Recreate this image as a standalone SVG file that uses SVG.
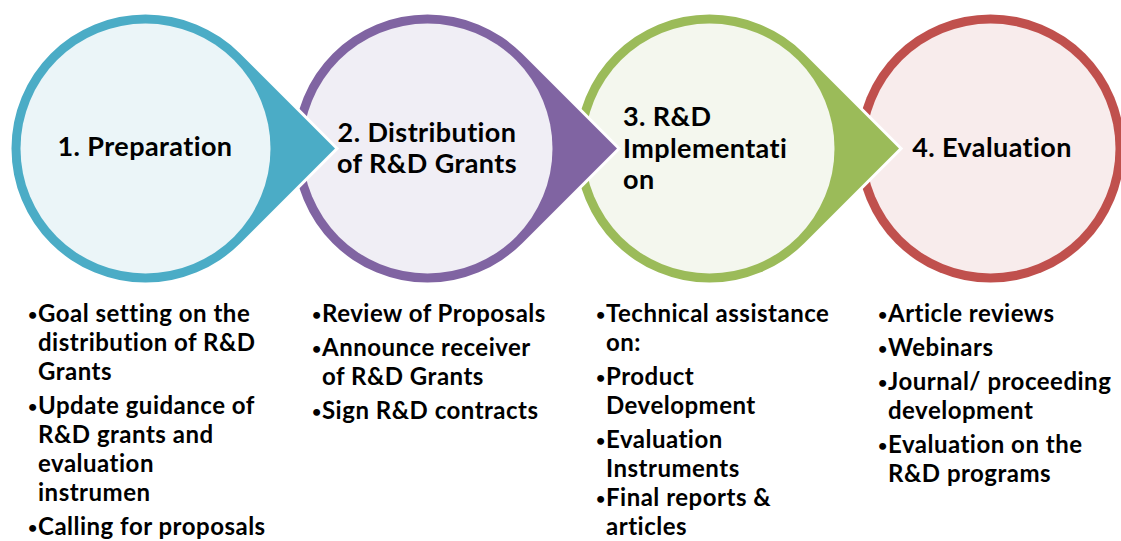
<svg xmlns="http://www.w3.org/2000/svg" width="1121" height="541" viewBox="0 0 1121 541">
  <style>
    .drop { stroke: #ffffff; stroke-width: 6; paint-order: stroke; stroke-linejoin: miter; }
    .title { font-family: "Lato", "Liberation Sans", sans-serif; font-weight: bold; font-size: 27px; letter-spacing: 0.4px; fill: #000; }
    .item { font-family: "Lato", "Liberation Sans", sans-serif; font-weight: bold; font-size: 24px; letter-spacing: 0.5px; fill: #000; }
    .dot { font-size: 16px; letter-spacing: 0; }
    .teal { fill: #4BACC6; }
    .purple { fill: #8064A2; }
    .green { fill: #9BBB59; }
    .red { fill: #C0504D; }
  </style>
  <rect width="1121" height="541" fill="#ffffff"/>

  <!-- stage 4: plain circle (drawn first so earlier stages overlap it) -->
  <g id="stage4">
    <circle class="drop red" cx="990.5" cy="148.5" r="134"/>
    <circle cx="990.5" cy="148.5" r="125" fill="#F8ECEC"/>
    <text class="title" x="992" y="157" text-anchor="middle">4. Evaluation</text>
  </g>

  <!-- stage 3: circle with pointer to the right -->
  <g id="stage3">
    <path class="drop green" d="M899,148.5 L804.25,53.75 A134,134 0 1 0 804.25,243.25 Z"/>
    <circle cx="709.5" cy="148.5" r="125" fill="#F4F7EE"/>
    <text class="title" x="623" y="126">3. R&amp;D</text>
    <text class="title" x="623" y="158">Implementati</text>
    <text class="title" x="623" y="189">on</text>
  </g>

  <!-- stage 2 -->
  <g id="stage2">
    <path class="drop purple" d="M617,148.5 L522.25,53.75 A134,134 0 1 0 522.25,243.25 Z"/>
    <circle cx="427.5" cy="148.5" r="125" fill="#F0EEF5"/>
    <text class="title" x="427" y="142" text-anchor="middle">2. Distribution</text>
    <text class="title" x="427" y="173" text-anchor="middle">of R&amp;D Grants</text>
  </g>

  <!-- stage 1 (topmost) -->
  <g id="stage1">
    <path class="drop teal" d="M335,148.5 L240.25,53.75 A134,134 0 1 0 240.25,243.25 Z"/>
    <circle cx="145.5" cy="148.5" r="125" fill="#EBF5F8"/>
    <text class="title" x="145" y="156" text-anchor="middle">1. Preparation</text>
  </g>

  <!-- activity lists under each stage -->
  <g id="list1" class="item">
    <text class="dot" x="28" y="319.5">•</text><text x="38" y="322">Goal setting on the</text>
    <text x="38" y="351">distribution of R&amp;D</text>
    <text x="38" y="380">Grants</text>
    <text class="dot" x="28" y="411.5">•</text><text x="38" y="414">Update guidance of</text>
    <text x="38" y="443">R&amp;D grants and</text>
    <text x="38" y="472">evaluation</text>
    <text x="38" y="501">instrumen</text>
    <text class="dot" x="28" y="532.5">•</text><text x="38" y="535">Calling for proposals</text>
  </g>

  <g id="list2" class="item">
    <text class="dot" x="312" y="319.5">•</text><text x="322" y="322">Review of Proposals</text>
    <text class="dot" x="312" y="353.5">•</text><text x="322" y="356">Announce receiver</text>
    <text x="322" y="385">of R&amp;D Grants</text>
    <text class="dot" x="312" y="416.5">•</text><text x="322" y="419">Sign R&amp;D contracts</text>
  </g>

  <g id="list3" class="item">
    <text class="dot" x="596" y="319.5">•</text><text x="606" y="322">Technical assistance</text>
    <text x="606" y="351">on:</text>
    <text class="dot" x="596" y="382.5">•</text><text x="606" y="385">Product</text>
    <text x="606" y="414">Development</text>
    <text class="dot" x="596" y="445.5">•</text><text x="606" y="448">Evaluation</text>
    <text x="606" y="477">Instruments</text>
    <text class="dot" x="596" y="503.5">•</text><text x="606" y="506">Final reports &amp;</text>
    <text x="606" y="535">articles</text>
  </g>

  <g id="list4" class="item">
    <text class="dot" x="878" y="319.5">•</text><text x="888" y="322">Article reviews</text>
    <text class="dot" x="878" y="353.5">•</text><text x="888" y="356">Webinars</text>
    <text class="dot" x="878" y="387.5">•</text><text x="888" y="390">Journal/ proceeding</text>
    <text x="888" y="419">development</text>
    <text class="dot" x="878" y="450.5">•</text><text x="888" y="453">Evaluation on the</text>
    <text x="888" y="482">R&amp;D programs</text>
  </g>
</svg>
